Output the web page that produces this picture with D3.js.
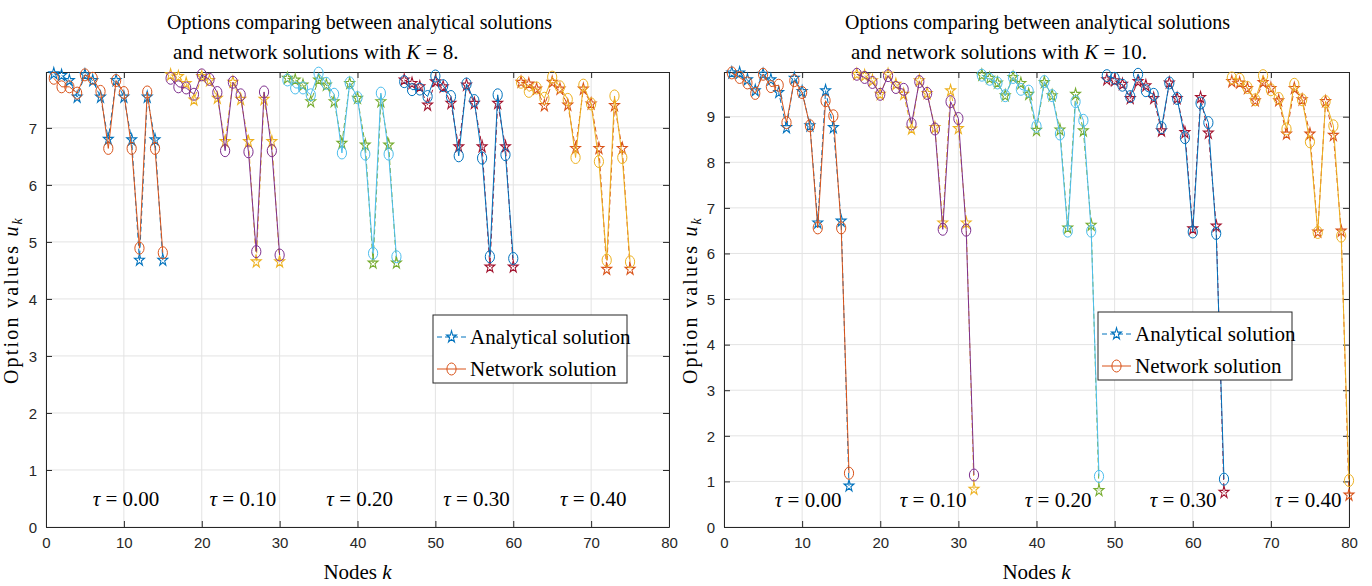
<!DOCTYPE html>
<html><head><meta charset="utf-8">
<script src="https://cdn.jsdelivr.net/npm/d3@7"></script>
<style>
body{margin:0;background:#fff;}
svg{display:block;}
.tick text{font-family:"Liberation Sans Narrow","Liberation Sans",Arial,sans-serif;font-size:15px;fill:#262626;}
</style></head>
<body><svg id="chart" width="1372" height="586"></svg>
<script>
// ---------- DATA ----------
const xTicks = [0,10,20,30,40,50,60,70,80];
const yTicksK8 = [0,1,2,3,4,5,6,7];
const yTicksK10 = [0,1,2,3,4,5,6,7,8,9];
const tauLabels = ["0.00","0.10","0.20","0.30","0.40"];
const seriesNames = ["Analytical solution","Network solution"];
const titleK8 = ["Options comparing between analytical solutions", "and network solutions with "];
// K = 8 : 5 groups of 15 nodes
const analyticalK8 = [
 [7.95,7.92,7.83,7.54,7.93,7.83,7.54,6.80,7.83,7.54,6.79,4.68,7.54,6.79,4.68],
 [7.93,7.90,7.78,7.49,7.90,7.83,7.52,6.76,7.80,7.50,6.76,4.65,7.50,6.76,4.65],
 [7.87,7.84,7.75,7.46,7.84,7.75,7.46,6.73,7.78,7.52,6.70,4.63,7.46,6.70,4.63],
 [7.84,7.78,7.72,7.40,7.81,7.72,7.43,6.67,7.75,7.43,6.67,4.56,7.43,6.67,4.56],
 [7.80,7.77,7.68,7.39,7.80,7.68,7.40,6.64,7.68,7.42,6.64,4.52,7.39,6.64,4.52]
];
const networkK8 = [
 [7.87,7.72,7.72,7.61,7.93,7.87,7.64,6.64,7.83,7.62,6.64,4.89,7.63,6.64,4.81],
 [7.87,7.72,7.70,7.59,7.93,7.85,7.62,6.60,7.80,7.58,6.58,4.83,7.63,6.60,4.77],
 [7.84,7.70,7.70,7.58,7.96,7.78,7.59,6.56,7.79,7.53,6.54,4.80,7.61,6.54,4.74],
 [7.81,7.67,7.68,7.55,7.91,7.74,7.55,6.51,7.77,7.48,6.47,4.74,7.58,6.53,4.71],
 [7.80,7.64,7.70,7.52,7.89,7.72,7.50,6.48,7.75,7.42,6.41,4.68,7.56,6.48,4.65]
];
// K = 10 : 5 groups of 16 nodes
const analyticalK10 = [
 [9.96,9.96,9.81,9.57,9.93,9.81,9.53,8.76,9.84,9.55,8.80,6.67,9.57,8.76,6.71,0.90],
 [9.93,9.90,9.79,9.49,9.93,9.71,9.49,8.73,9.79,9.51,8.76,6.67,9.57,8.74,6.67,0.83],
 [9.91,9.84,9.74,9.46,9.86,9.73,9.49,8.70,9.75,9.46,8.71,6.56,9.49,8.69,6.62,0.80],
 [9.81,9.79,9.71,9.40,9.77,9.68,9.40,8.69,9.74,9.40,8.65,6.54,9.42,8.64,6.60,0.76],
 [9.77,9.74,9.62,9.35,9.75,9.62,9.35,8.62,9.62,9.37,8.62,6.47,9.33,8.59,6.49,0.70]
];
const networkK10 = [
 [9.96,9.86,9.74,9.51,9.93,9.66,9.69,8.87,9.79,9.53,8.80,6.56,9.35,9.02,6.56,1.18],
 [9.93,9.86,9.75,9.49,9.90,9.64,9.60,8.84,9.77,9.51,8.73,6.53,9.33,8.96,6.51,1.14],
 [9.91,9.82,9.74,9.46,9.86,9.60,9.56,8.79,9.77,9.46,8.62,6.49,9.33,8.92,6.49,1.11],
 [9.90,9.84,9.69,9.44,9.93,9.57,9.49,8.76,9.74,9.40,8.54,6.47,9.30,8.87,6.44,1.05],
 [9.85,9.82,9.64,9.37,9.90,9.59,9.40,8.73,9.71,9.37,8.45,6.46,9.33,8.80,6.38,1.02]
];
const starColors = ["#0072BD","#EDB120","#77AC30","#A2142F","#D95319"];
const circleColors = ["#D95319","#7E2F8E","#4DBEEE","#0072BD","#EDB120"];

// ---------- DRAW ----------
const svg = d3.select("#chart");
svg.append("rect").attr("width",1372).attr("height",586).attr("fill","#fff");
const serif = '"Liberation Serif","Times New Roman",serif';
const starPath = d3.symbol().type(d3.symbolStar).size(30)();

function panel(opt){
  const x = d3.scaleLinear().domain([0,80]).range([opt.x0,opt.x1]);
  const y = d3.scaleLinear().domain([0,opt.ymax]).range([527,72]);
  const g = svg.append("g");
  // grid
  g.append("g").selectAll("line").data(xTicks).join("line")
    .attr("x1",d=>x(d)).attr("x2",d=>x(d)).attr("y1",y(0)).attr("y2",y(opt.ymax))
    .attr("stroke","#e3e3e3").attr("stroke-width",1);
  g.append("g").selectAll("line").data(opt.yTicks).join("line")
    .attr("y1",d=>y(d)).attr("y2",d=>y(d)).attr("x1",x(0)).attr("x2",x(80))
    .attr("stroke","#e3e3e3").attr("stroke-width",1);
  // axes
  const ax = g.append("g").attr("transform",`translate(0,${y(0)})`)
    .call(d3.axisBottom(x).tickValues(xTicks).tickSizeInner(-6).tickSizeOuter(0).tickPadding(10));
  const axT = g.append("g").attr("transform",`translate(0,${y(opt.ymax)})`)
    .call(d3.axisTop(x).tickValues(xTicks).tickSizeInner(-6).tickSizeOuter(0).tickFormat(""));
  const ay = g.append("g").attr("transform",`translate(${x(0)},0)`)
    .call(d3.axisLeft(y).tickValues(opt.yTicks).tickSizeInner(-6).tickSizeOuter(0).tickPadding(9));
  const ayR = g.append("g").attr("transform",`translate(${x(80)},0)`)
    .call(d3.axisRight(y).tickValues(opt.yTicks).tickSizeInner(-6).tickSizeOuter(0).tickFormat(""));
  [ax,axT,ay,ayR].forEach(a=>{a.select(".domain").attr("stroke","#262626");a.selectAll(".tick line").attr("stroke","#262626");});
  ay.selectAll("text").attr("dy","0.35em");
  // data
  const n = opt.ana[0].length;
  const line = d3.line().x(d=>x(d.k)).y(d=>y(d.v));
  for(let gi=0; gi<opt.ana.length; gi++){
    const a = opt.ana[gi].map((v,i)=>({k:gi*n+i+1,v}));
    const c = opt.net[gi].map((v,i)=>({k:gi*n+i+1,v}));
    g.append("path").datum(a).attr("d",line).attr("fill","none")
      .attr("stroke",starColors[gi]).attr("stroke-width",1).attr("stroke-dasharray","5,3");
    g.append("g").selectAll("path").data(a).join("path").attr("d",starPath)
      .attr("transform",d=>`translate(${x(d.k)},${y(d.v)}) scale(1,1.2)`)
      .attr("fill","none").attr("stroke",starColors[gi]).attr("stroke-width",1);
    g.append("path").datum(c).attr("d",line).attr("fill","none")
      .attr("stroke",circleColors[gi]).attr("stroke-width",1);
    g.append("g").selectAll("ellipse").data(c).join("ellipse")
      .attr("cx",d=>x(d.k)).attr("cy",d=>y(d.v)).attr("rx",4.6).attr("ry",6)
      .attr("fill","none").attr("stroke",circleColors[gi]).attr("stroke-width",1);
  }
  // tau labels
  tauLabels.forEach((t,i)=>{
    const tx = g.append("text").attr("x",x(i*n+opt.tauOff)).attr("y",y(opt.tauY)).attr("dy","0.35em")
      .attr("font-family",serif).attr("font-size",21).attr("fill","#000");
    tx.append("tspan").attr("font-style","italic").text("τ");
    tx.append("tspan").text(" = "+t);
  });
  // title
  const cx = opt.titleX;
  g.append("text").attr("x",cx).attr("y",29).attr("font-family",serif).attr("font-size",21)
    .attr("textLength",385).attr("lengthAdjust","spacingAndGlyphs").text(titleK8[0]);
  const t2 = g.append("text").attr("x",cx+6).attr("y",59).attr("font-family",serif).attr("font-size",21);
  t2.append("tspan").text(titleK8[1]);
  t2.append("tspan").attr("font-style","italic").text("K");
  t2.append("tspan").text(" = "+opt.K+".");
  // x label
  const xl = g.append("text").attr("x",(opt.x0+opt.x1)/2).attr("y",579).attr("text-anchor","middle")
    .attr("font-family",serif).attr("font-size",21);
  xl.append("tspan").text("Nodes ");
  xl.append("tspan").attr("font-style","italic").text("k");
  // y label
  const yl = g.append("text").attr("transform",`translate(${opt.ylx},300) rotate(-90)`)
    .attr("text-anchor","middle").attr("font-family",serif).attr("font-size",20)
    .attr("letter-spacing",2.2);
  yl.append("tspan").text("Option values ");
  yl.append("tspan").attr("font-style","italic").text("u");
  yl.append("tspan").attr("font-style","italic").attr("font-size",14).attr("dy",4).text("k");
  // legend
  const lg = g.append("g").attr("transform",`translate(${opt.legX},${opt.legY})`);
  lg.append("rect").attr("width",194).attr("height",68).attr("fill","#fff").attr("stroke","#262626").attr("stroke-width",1);
  [0,1].forEach(i=>{
    const yy = 22 + i*32;
    lg.append("line").attr("x1",4).attr("x2",33).attr("y1",yy).attr("y2",yy)
      .attr("stroke", i===0?"#0072BD":"#D95319").attr("stroke-width",1)
      .attr("stroke-dasharray", i===0?"5,3":null);
    if(i===0) lg.append("path").attr("d",starPath).attr("transform",`translate(18.5,${yy}) scale(1,1.2)`)
      .attr("fill","none").attr("stroke","#0072BD");
    else lg.append("ellipse").attr("cx",18.5).attr("cy",yy).attr("rx",4.6).attr("ry",6)
      .attr("fill","none").attr("stroke","#D95319");
    lg.append("text").attr("x",37).attr("y",yy).attr("dy","0.35em").attr("font-family",serif)
      .attr("font-size",21).text(seriesNames[i]);
  });
}

panel({x0:46,x1:669,ymax:7.98,yTicks:yTicksK8,ana:analyticalK8,net:networkK8,
  tauOff:6,tauY:0.5,titleX:167,K:8,ylx:18,legX:433,legY:315});
panel({x0:724,x1:1349,ymax:9.98,yTicks:yTicksK10,ana:analyticalK10,net:networkK10,
  tauOff:6.5,tauY:0.6,titleX:845,K:10,ylx:697,legX:1098,legY:312});
</script></body></html>
